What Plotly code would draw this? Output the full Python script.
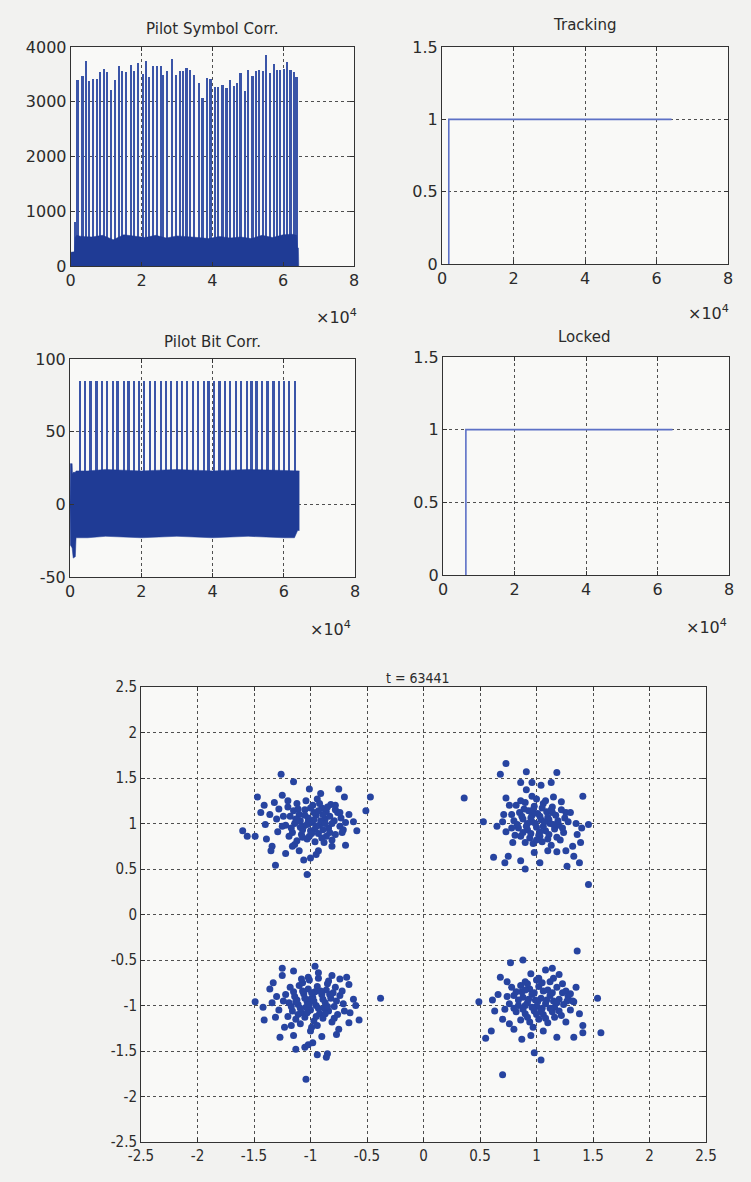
import plotly.graph_objects as go

W, H = 751, 1182

# ---------------- data ----------------
# Pilot Symbol Corr. : correlation peaks (sample index, value)
sym_spike_x = [1250, 1880, 3290, 4320, 5260, 6390, 7330, 8270, 9400, 10340, 11280, 12500, 13530, 14570,
               15600, 16920, 17860, 19080, 20300, 21240, 21990, 23120, 24250, 25380, 26130, 27070,
               28480, 29700, 30830, 31770, 32710, 33650, 34770, 36280, 37220, 38530, 39470, 40700,
               41640, 42860, 43980, 44920, 46150, 46990, 47930, 49150, 50090, 51320, 52260, 53200,
               54320, 55080, 56200, 57330, 58270, 59020, 60150, 61090, 62030, 62970, 63720]
sym_spike_h = [800, 3400, 3475, 3740, 3370, 3410, 3410, 3535, 3600, 3535, 3220, 3400, 3660, 3570,
               3535, 3675, 3555, 3705, 3510, 3740, 3460, 3660, 3650, 3660, 3490, 3555,
               3780, 3490, 3555, 3570, 3615, 3585, 3490, 3340, 3065, 3430, 3420, 3270,
               3270, 3310, 3250, 3390, 3290, 3340, 3525, 3190, 3585, 3475, 3570, 3585,
               3570, 3860, 3525, 3695, 3585, 3585, 3600, 3720, 3585, 3535, 3460]
# Pilot Symbol Corr. : envelope of the dense noise floor
sym_base_x = [0, 1100, 1300, 1700, 3000, 6000, 9000, 12000, 15000, 18000, 21000, 24000, 27000, 30000,
              33000, 36000, 39000, 42000, 45000, 48000, 51000, 54000, 57000, 60000, 62500, 63800,
              64000, 64300, 64400]
sym_base_y = [250, 260, 520, 560, 540, 530, 560, 480, 570, 540, 520, 560, 510, 550,
              540, 520, 500, 540, 510, 530, 500, 560, 520, 570, 580, 560,
              330, 330, 0]

# Tracking / Locked flags
track_x = [1900, 1900, 64200]
track_y = [0, 1, 1]
lock_x = [6400, 6400, 64200]
lock_y = [0, 1, 1]

# Pilot Bit Corr. : peaks
bit_spike_x = [2820, 4140, 5840, 7440, 8850, 10350, 11950, 13360, 15060, 16470, 18070, 19480, 20890,
               22590, 23910, 25600, 27010, 28420, 30120, 31430, 32940, 34540, 35950, 37650, 38960,
               40470, 42070, 43480, 44890, 46490, 48000, 49600, 51010, 52420, 54020, 55530, 57130,
               58540, 59950, 61550, 63060]
bit_spike_h = [85] * 41
# Pilot Bit Corr. : upper / lower envelope of the dense band
bit_band_x = [0, 100, 600, 700, 900, 1500, 1700, 5000, 10000, 20000, 30000, 40000, 50000, 60000,
              63000, 63900, 64400]
bit_band_hi = [0, 28, 28, 21, 22, 22, 23, 23, 24, 23, 24, 23, 24, 23, 23, 23, 23]
bit_band_lo = [0, -28, -30, -37, -37, -36, -23, -23, -22, -23, -22, -23, -22, -23, -23, -18, -18]

# Constellation at t = 63441 (I, Q) per quadrant
tl_i = [-1.20, -1.12, -1.05, -0.98, -0.90, -0.82, -0.76, -1.18, -1.10, -1.02, -0.95, -0.87, -0.79, -1.22,
        -1.14, -1.06, -0.99, -0.92, -0.84, -0.74, -1.16, -1.08, -1.00, -0.93, -0.86, -0.78, -1.12, -1.03,
        -0.96, -0.88, -1.04, -0.94, -0.86, -1.15, -0.97, -1.09, -0.91, -0.83, -1.01, -1.19, -0.81, -0.96,
        -1.07, -0.89, -0.73,
        -1.13, -1.05, -0.97, -0.89, -0.81, -1.17, -1.09, -1.03, -0.95, -0.87, -1.11, -1.00, -0.93, -0.85,
        -1.07, -0.99, -0.90, -0.83, -1.24, -1.20, -0.78, -0.71, -1.14, -0.92, -1.02,
        -1.26, -1.15, -1.01, -1.47, -1.32, -1.25, -0.91, -0.75, -0.70, -0.47, -0.51, -1.41, -1.44, -1.60,
        -1.56, -1.49, -1.40, -1.39, -1.34, -1.35, -1.31, -1.29, -1.16, -1.06, -1.03, -1.00, -0.93, -0.81,
        -0.69, -0.59, -0.69, -0.74, -0.78, -1.30, -1.36, -1.25, -1.28, -0.66, -0.62, -0.72, -1.10, -0.95,
        -1.22]
tl_q = [1.18, 1.22, 1.15, 1.20, 1.17, 1.21, 1.12, 1.08, 1.10, 1.06, 1.09, 1.05, 1.03, 0.98,
        1.00, 0.97, 1.01, 0.98, 0.95, 0.97, 0.90, 0.88, 0.92, 0.89, 0.86, 0.88, 0.81, 0.83,
        0.80, 0.79, 1.25, 1.27, 1.13, 1.14, 1.12, 1.03, 1.03, 1.08, 0.86, 0.86, 0.82, 0.94,
        0.93, 0.93, 1.06,
        1.05, 1.09, 1.04, 1.10, 1.00, 0.95, 0.96, 0.99, 0.97, 1.00, 1.16, 1.17, 1.14, 1.18,
        0.85, 0.89, 0.84, 0.90, 1.08, 1.25, 1.15, 0.93, 0.77, 1.22, 1.02,
        1.54, 1.46, 1.38, 1.29, 1.23, 1.31, 1.33, 1.38, 1.29, 1.29, 1.14, 1.20, 1.12, 0.92,
        0.86, 0.86, 0.99, 0.83, 0.75, 0.70, 0.54, 0.91, 0.75, 0.60, 0.44, 0.62, 0.70, 0.75,
        0.76, 0.92, 1.01, 1.12, 1.20, 1.05, 1.10, 0.97, 1.16, 1.10, 1.02, 0.90, 0.70, 0.66,
        0.67]

tr_i = [0.82, 0.90, 0.98, 1.06, 1.14, 1.22, 0.85, 0.93, 1.01, 1.09, 1.17, 1.25, 0.80, 0.88,
        0.96, 1.04, 1.12, 1.20, 0.84, 0.92, 1.00, 1.08, 1.16, 1.24, 0.86, 0.94, 1.02, 1.10,
        1.18, 0.97, 1.05, 0.90, 1.13, 1.00, 0.92, 1.06, 1.14, 0.78, 0.96, 1.28, 1.10, 0.88, 1.03,
        0.87, 0.95, 1.03, 1.11, 1.19, 0.83, 0.91, 0.99, 1.07, 1.15, 0.89, 0.97, 1.05, 1.13,
        0.95, 1.03, 1.11, 1.21, 0.81, 1.26, 0.86, 1.08, 0.78, 1.23, 1.00,
        0.73, 0.68, 0.91, 1.18, 0.36, 0.53, 0.86, 0.96, 1.04, 1.13, 0.91, 0.73, 0.96, 1.15,
        1.41, 1.46, 0.62, 0.72, 0.75, 0.86, 0.90, 1.03, 0.79, 1.18, 1.27, 1.26, 1.33, 1.32,
        1.39, 1.38, 1.46, 0.65, 0.71, 0.73, 1.35, 1.40, 1.30, 1.36, 0.76, 1.22, 0.70, 0.98, 1.10]
tr_q = [1.20, 1.23, 1.19, 1.22, 1.18, 1.15, 1.12, 1.14, 1.11, 1.13, 1.09, 1.06, 1.03, 1.05,
        1.02, 1.04, 1.00, 0.98, 0.95, 0.93, 0.96, 0.92, 0.94, 0.90, 0.86, 0.84, 0.87, 0.83,
        0.85, 0.78, 0.80, 0.79, 0.76, 1.27, 1.00, 0.97, 1.12, 1.10, 1.09, 1.02, 1.07, 0.90, 0.91,
        1.08, 1.06, 1.08, 1.04, 1.03, 0.99, 0.97, 1.00, 1.02, 0.99, 1.16, 1.15, 1.17, 1.15,
        0.89, 0.86, 0.88, 0.82, 0.87, 1.12, 1.25, 1.25, 0.95, 0.95, 0.82,
        1.66, 1.54, 1.57, 1.56, 1.28, 1.02, 1.45, 1.45, 1.42, 1.45, 1.37, 1.28, 1.30, 1.29,
        1.30, 0.33, 0.63, 0.57, 0.64, 0.59, 0.50, 0.57, 0.79, 0.69, 0.53, 0.70, 0.64, 0.75,
        0.79, 0.57, 0.99, 0.97, 1.10, 0.91, 1.00, 0.95, 1.12, 0.88, 1.20, 1.24, 1.02, 0.68, 0.70]

bl_i = [-1.18, -1.10, -1.02, -0.94, -0.86, -0.78, -1.22, -1.14, -1.06, -0.98, -0.90, -0.82, -0.74,
        -1.19, -1.11, -1.03, -0.95, -0.87, -0.79, -0.71, -1.16, -1.08, -1.00, -0.92, -0.84, -0.76,
        -1.13, -1.05, -0.97, -0.89, -0.81, -1.01, -0.93, -1.09, -0.94, -1.20, -0.70, -1.04, -0.88,
        -0.96, -1.12, -0.80, -1.00,
        -1.15, -1.07, -0.99, -0.91, -0.83, -1.17, -1.09, -1.01, -0.93, -0.85, -1.13, -1.05, -0.97,
        -0.89, -0.77, -1.11, -1.03, -0.95, -0.87, -0.79, -1.24, -0.72, -1.07, -0.85, -0.99,
        -1.25, -1.15, -0.96, -0.93, -1.33, -1.25, -1.36, -1.49, -1.42, -1.41, -1.31, -1.34, -1.27,
        -1.23, -1.17, -1.15, -1.13, -1.05, -1.02, -0.98, -0.94, -0.85, -0.86, -1.04, -1.00, -0.90,
        -0.77, -0.75, -0.66, -0.57, -0.38, -0.65, -0.81, -0.74, -0.68, -0.66, -0.84, -1.02, -1.08,
        -0.62, -0.60, -1.28, -1.30]
bl_q = [-0.80, -0.78, -0.82, -0.79, -0.83, -0.80, -0.88, -0.90, -0.87, -0.91, -0.88, -0.92, -0.89,
        -0.97, -0.99, -0.96, -1.00, -0.97, -1.01, -0.98, -1.06, -1.08, -1.05, -1.09, -1.06, -1.10,
        -1.15, -1.13, -1.17, -1.14, -1.18, -0.72, -0.70, -1.20, -1.22, -1.12, -1.06, -1.02, -1.03,
        -0.85, -0.94, -0.86, -0.93,
        -0.85, -0.84, -0.86, -0.84, -0.88, -1.01, -1.03, -0.99, -1.03, -1.01, -0.96, -0.92, -0.95,
        -0.93, -0.95, -1.10, -1.08, -1.12, -1.09, -1.14, -0.95, -0.84, -0.75, -0.76, -1.24,
        -0.59, -0.62, -0.57, -0.64, -0.75, -0.67, -0.82, -0.96, -1.02, -1.16, -1.13, -0.97, -1.35,
        -1.24, -1.22, -1.33, -1.48, -1.46, -1.43, -1.41, -1.54, -1.53, -1.57, -1.81, -1.28, -1.34,
        -1.32, -1.26, -1.19, -1.16, -0.92, -1.08, -0.67, -0.71, -0.69, -0.77, -0.73, -0.69, -0.71,
        -0.93, -1.00, -1.05, -0.90]

br_i = [0.78, 0.86, 0.94, 1.02, 1.10, 1.18, 1.26, 0.80, 0.88, 0.96, 1.04, 1.12, 1.20, 1.28,
        0.76, 0.84, 0.92, 1.00, 1.08, 1.16, 1.24, 0.82, 0.90, 0.98, 1.06, 1.14, 1.22, 0.86,
        0.94, 1.02, 1.10, 0.97, 1.32, 1.30, 0.72, 1.00, 1.12, 0.90, 1.05, 0.99, 1.15, 0.87,
        0.82, 0.90, 0.98, 1.06, 1.14, 0.84, 0.93, 1.01, 1.09, 1.18, 0.80, 0.88, 0.96, 1.04,
        1.12, 1.20, 0.92, 1.00, 1.08, 1.16, 1.27, 0.74, 1.05, 0.92, 1.23,
        1.36, 0.77, 0.88, 0.68, 0.74, 0.49, 0.61, 0.63, 0.60, 0.55, 0.70, 0.98, 1.04, 0.87,
        0.80, 0.95, 1.06, 1.18, 1.33, 1.41, 1.41, 1.57, 1.54, 1.38, 1.33, 1.30, 1.23, 1.15,
        1.08, 1.14, 1.02, 0.90, 0.66, 0.70, 0.76, 1.26, 1.35, 1.20, 0.95]
br_q = [-0.80, -0.78, -0.82, -0.79, -0.83, -0.80, -0.84, -0.89, -0.91, -0.88, -0.92, -0.89, -0.93, -0.90,
        -0.98, -1.00, -0.97, -1.01, -0.98, -1.02, -0.99, -1.07, -1.09, -1.06, -1.10, -1.07, -1.11, -1.16,
        -1.18, -1.15, -1.19, -1.24, -0.95, -1.05, -1.04, -0.72, -0.74, -1.00, -1.03, -0.94, -0.95, -0.85,
        -0.85, -0.83, -0.86, -0.84, -0.86, -0.94, -0.93, -0.96, -0.94, -0.97, -1.03, -1.04, -1.02, -1.06,
        -1.03, -1.06, -1.13, -1.10, -1.14, -1.13, -0.95, -0.90, -0.75, -0.76, -0.86,
        -0.40, -0.53, -0.50, -0.69, -0.74, -0.96, -0.94, -1.06, -1.28, -1.36, -1.76, -1.52, -1.60, -1.37,
        -1.26, -1.33, -1.28, -1.35, -1.35, -1.30, -1.22, -1.30, -0.92, -1.09, -0.96, -0.87, -0.76, -0.70,
        -0.61, -0.59, -0.70, -0.74, -0.88, -1.15, -1.20, -1.18, -0.80, -0.66, -0.65]

# axis ticks
big_x_ticks = [0, 20000, 40000, 60000, 80000]
big_x_labels = ["0", "2", "4", "6", "8"]
sym_y_ticks = [0, 1000, 2000, 3000, 4000]
flag_y_ticks = [0, 0.5, 1, 1.5]
flag_y_labels = ["0", "0.5", "1", "1.5"]
bit_y_ticks = [-50, 0, 50, 100]
bit_y_labels = ["-50", "0", "50", "100"]
iq_ticks = [-2.5, -2, -1.5, -1, -0.5, 0, 0.5, 1, 1.5, 2, 2.5]
iq_labels = ["-2.5", "-2", "-1.5", "-1", "-0.5", "0", "0.5", "1", "1.5", "2", "2.5"]

# ---------------- styling ----------------
FONT = "DejaVu Sans, Liberation Sans, Arial, sans-serif"
FONT_C = "DejaVu Sans Condensed, DejaVu Sans, Liberation Sans Narrow, sans-serif"
SPIKE_C = "#3b55a8"
BAND_C = "#1f3b95"
FLAG_C = "#5d71c6"
DOT_C = "#2744a0"


def xd(a, b):
    return [a / W, b / W]


def yd(top, bottom):
    return [1 - bottom / H, 1 - top / H]


def axis(domain, rng, tv, tt, anchor, size=16, family=FONT):
    return dict(domain=domain, range=rng, tickvals=tv, ticktext=tt, anchor=anchor,
                automargin=False,
                showline=True, mirror="ticks", linecolor="#333333", linewidth=1,
                ticks="inside", ticklen=4, tickcolor="#333333",
                showgrid=True, gridcolor="#505050", griddash="dot", gridwidth=1,
                zeroline=False, fixedrange=True,
                tickfont=dict(family=family, size=size, color="#2b2b2b"))


fig = go.Figure()

# Pilot Symbol Corr.
fig.add_trace(go.Bar(x=sym_spike_x, y=sym_spike_h, width=480, marker_color=SPIKE_C,
                     marker_line_width=0, xaxis="x", yaxis="y", showlegend=False))
fig.add_trace(go.Scatter(x=sym_base_x, y=sym_base_y, mode="lines", fill="tozeroy",
                         line=dict(color=BAND_C, width=0.5), fillcolor=BAND_C,
                         xaxis="x", yaxis="y", showlegend=False))

# Tracking
fig.add_trace(go.Scatter(x=track_x, y=track_y, mode="lines", line=dict(color=FLAG_C, width=1.6),
                         xaxis="x2", yaxis="y2", showlegend=False))

# Pilot Bit Corr.
fig.add_trace(go.Bar(x=bit_spike_x, y=bit_spike_h, width=560, marker_color=SPIKE_C,
                     marker_line_width=0, xaxis="x3", yaxis="y3", showlegend=False))
fig.add_trace(go.Scatter(x=bit_band_x, y=bit_band_hi, mode="lines",
                         line=dict(color=BAND_C, width=0.5),
                         xaxis="x3", yaxis="y3", showlegend=False))
fig.add_trace(go.Scatter(x=bit_band_x, y=bit_band_lo, mode="lines", fill="tonexty",
                         line=dict(color=BAND_C, width=0.5), fillcolor=BAND_C,
                         xaxis="x3", yaxis="y3", showlegend=False))

# Locked
fig.add_trace(go.Scatter(x=lock_x, y=lock_y, mode="lines", line=dict(color=FLAG_C, width=1.6),
                         xaxis="x4", yaxis="y4", showlegend=False))

# Constellation
fig.add_trace(go.Scatter(x=tl_i + tr_i + bl_i + br_i, y=tl_q + tr_q + bl_q + br_q, mode="markers",
                         marker=dict(color=DOT_C, size=7, line=dict(width=0)),
                         xaxis="x5", yaxis="y5", showlegend=False))

layout = dict(
    width=W, height=H, margin=dict(l=0, r=0, t=0, b=0, pad=0, autoexpand=False), autosize=False,
    paper_bgcolor="#f2f2f0", plot_bgcolor="#f9f9f7", bargap=0,
    xaxis=axis(xd(70.7, 354), [0, 80000], big_x_ticks, big_x_labels, "y"),
    yaxis=axis(yd(47, 266), [0, 4000], sym_y_ticks, [str(v) for v in sym_y_ticks], "x"),
    xaxis2=axis(xd(442, 728), [0, 80000], big_x_ticks, big_x_labels, "y2"),
    yaxis2=axis(yd(47, 264), [0, 1.5], flag_y_ticks, flag_y_labels, "x2"),
    xaxis3=axis(xd(70, 355), [0, 80000], big_x_ticks, big_x_labels, "y3"),
    yaxis3=axis(yd(359, 577), [-50, 100], bit_y_ticks, bit_y_labels, "x3"),
    xaxis4=axis(xd(443, 729), [0, 80000], big_x_ticks, big_x_labels, "y4"),
    yaxis4=axis(yd(357, 575), [0, 1.5], flag_y_ticks, flag_y_labels, "x4"),
    xaxis5=axis(xd(141, 706), [-2.5, 2.5], iq_ticks, iq_labels, "y5", size=15, family=FONT_C),
    yaxis5=axis(yd(687, 1142), [-2.5, 2.5], iq_ticks, iq_labels, "x5", size=15, family=FONT_C),
)
fig.update_layout(**layout)


def note(text, px, py, size=15, xanchor="center", family=FONT):
    fig.add_annotation(text=text, x=px / W, y=1 - py / H, xref="paper", yref="paper",
                       showarrow=False, xanchor=xanchor, yanchor="middle",
                       font=dict(family=family, size=size, color="#2b2b2b"))


note("Pilot Symbol Corr.", 212, 29)
note("Tracking", 584, 25)
note("Pilot Bit Corr.", 212, 342)
note("Locked", 584, 337)
note("t = 63441", 418, 678, size=14, family=FONT_C)
note("×10<sup>4</sup>", 336, 316, size=16)
note("×10<sup>4</sup>", 708, 312, size=16)
note("×10<sup>4</sup>", 330, 628, size=16)
note("×10<sup>4</sup>", 706, 626, size=16)

fig.write_html(
    "out.html",
    config={"displayModeBar": False},
    post_script="document.body.style.margin='0';document.body.style.overflow='hidden';",
)
